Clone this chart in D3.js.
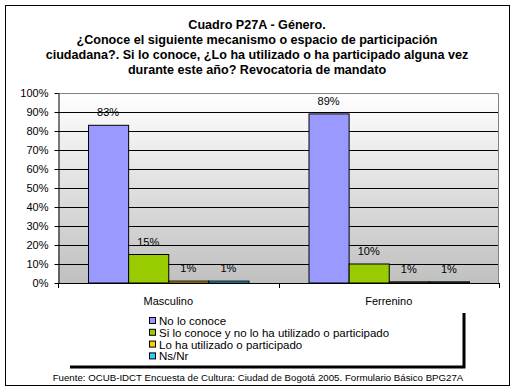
<!DOCTYPE html>
<html><head><meta charset="utf-8">
<script src="https://cdn.jsdelivr.net/npm/d3@7"></script>
<style>body{margin:0;background:#fff}svg{display:block;font-family:"Liberation Sans",Arial,sans-serif}</style>
</head><body>
<script>
const categories = ["Masculino", "Ferrenino"];
const seriesNames = ["No lo conoce", "Si lo conoce y no lo ha utilizado o participado", "Lo ha utilizado o participado", "Ns/Nr"];
const masculino = [83, 15, 1, 1];
const femenino = [89, 10, 0.6, 0.6];
const yTicks = [0,10,20,30,40,50,60,70,80,90,100];
const colors = ["#9999FF", "#99CC00", "#FFCC00", "#33CCFF"];
const titleLines = ["Cuadro P27A - Género.", "¿Conoce el siguiente mecanismo o espacio de participación", "ciudadana?. Si lo conoce, ¿Lo ha utilizado o ha participado alguna vez", "durante este año? Revocatoria de mandato"];
const source = "Fuente: OCUB-IDCT Encuesta de Cultura: Ciudad de Bogotá 2005. Formulario Básico BPG27A";

const values = [masculino, femenino];
const W = 515, H = 391;
const svg = d3.select("body").append("svg").attr("width", W).attr("height", H);
svg.append("rect").attr("x",5.5).attr("y",5.5).attr("width",504).attr("height",380).attr("fill","#fff").attr("stroke","#000");

const title = svg.append("text").attr("text-anchor","middle").attr("font-size","12.6px").attr("font-weight","bold");
titleLines.forEach((t,i)=> title.append("tspan").attr("x",257).attr("y",29+i*15).text(t));

const L=58, R=499, T=93, B=283;
const x0 = d3.scaleBand().domain(categories).range([L,R]).paddingInner(0).paddingOuter(0);
const x1 = d3.scaleBand().domain(d3.range(4)).range([30,x0.bandwidth()-30]).padding(0);
const y = d3.scaleLinear().domain([0,100]).range([B,T]);

const defs = svg.append("defs");
const g = defs.append("linearGradient").attr("id","bg").attr("x1",0).attr("y1",0).attr("x2",0).attr("y2",1);
g.append("stop").attr("offset","0%").attr("stop-color","#ffffff");
g.append("stop").attr("offset","100%").attr("stop-color","#c0c0c0");
svg.append("rect").attr("x",L).attr("y",T).attr("width",R-L).attr("height",B-T).attr("fill","url(#bg)");

// gridlines
svg.append("g").selectAll("line").data(yTicks.filter(d=>d>0&&d<100)).join("line")
  .attr("x1",L).attr("x2",R).attr("y1",d=>Math.round(y(d))+0.5).attr("y2",d=>Math.round(y(d))+0.5).attr("stroke","#000");
// top & right border
svg.append("path").attr("d",`M${L},${T+0.5}H${R-0.5}V${B}`).attr("fill","none").attr("stroke","#808080");

// bars
const cg = svg.append("g").selectAll("g").data(categories).join("g").attr("transform",d=>`translate(${x0(d)},0)`);
cg.selectAll("rect").data((d,i)=>values[i].map((v,j)=>({v,j}))).join("rect")
  .attr("x",d=>x1(d.j)+0.5).attr("width",x1.bandwidth())
  .attr("y",d=>y(d.v)).attr("height",d=>B-y(d.v))
  .attr("fill",d=>colors[d.j]).attr("stroke","#000").attr("stroke-width",1);
cg.selectAll("text").data((d,i)=>values[i].map((v,j)=>({v,j}))).join("text")
  .attr("x",d=>x1(d.j)+x1.bandwidth()/2).attr("y",d=>y(d.v)-9)
  .attr("text-anchor","middle").attr("font-size","11px").text(d=>Math.round(d.v)+"%");

// axes
const ya = svg.append("g").attr("transform",`translate(${L+0.5},0)`)
  .call(d3.axisLeft(y).tickValues(yTicks).tickFormat(d=>d+"%").tickSize(4).tickSizeOuter(0));
ya.select(".domain").attr("stroke","#000");
ya.selectAll("text").attr("font-size","11px").attr("fill","#000").attr("font-family","Liberation Sans, Arial, sans-serif").attr("dx","-3");
ya.selectAll(".tick").attr("transform",d=>`translate(0,${Math.round(y(d))+0.5})`);

svg.append("line").attr("x1",L).attr("x2",R).attr("y1",B+0.5).attr("y2",B+0.5).attr("stroke","#000");
svg.append("g").selectAll("line").data([L,L+x0.bandwidth(),R]).join("line")
  .attr("x1",d=>Math.round(d)+0.5).attr("x2",d=>Math.round(d)+0.5).attr("y1",B).attr("y2",B+5).attr("stroke","#000");
svg.append("g").selectAll("text").data(categories).join("text")
  .attr("x",d=>x0(d)+x0.bandwidth()/2).attr("y",305).attr("text-anchor","middle").attr("font-size","11px").text(d=>d);

// legend
svg.append("rect").attr("x",71).attr("y",313).attr("width",393).attr("height",55).attr("fill","#fff");
svg.append("path").attr("d","M70,367H464V313").attr("fill","none").attr("stroke","#000").attr("stroke-width",3);
const lg = svg.append("g").selectAll("g").data(seriesNames).join("g")
  .attr("transform",(d,i)=>`translate(149,${321+i*11.8})`);
lg.append("rect").attr("x",0.5).attr("y",-3.5).attr("width",6).attr("height",6).attr("fill",(d,i)=>colors[i]).attr("stroke","#000");
lg.append("text").attr("x",10).attr("y",4).attr("font-size","11.5px").text(d=>d);

svg.append("text").attr("x",258).attr("y",381).attr("text-anchor","middle").attr("font-size","9.7px").text(source);
</script>
</body></html>
